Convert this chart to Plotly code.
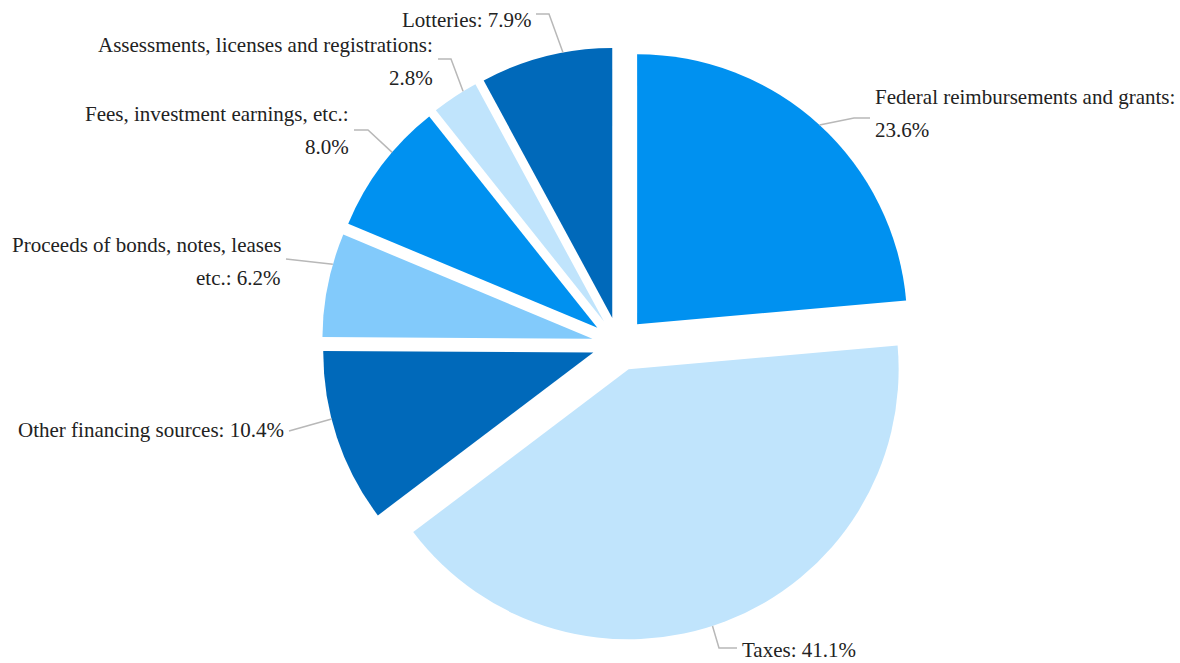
import math
import plotly.graph_objects as go

labels = ["Federal reimbursements and grants", "Taxes", "Other financing sources",
          "Proceeds of bonds, notes, leases etc.", "Fees, investment earnings, etc.",
          "Assessments, licenses and registrations", "Lotteries"]
values = [23.6, 41.1, 10.4, 6.2, 8.0, 2.8, 7.9]
label_lines = [["Federal reimbursements and grants:", "23.6%"],
               ["Taxes: 41.1%"],
               ["Other financing sources: 10.4%"],
               ["Proceeds of bonds, notes, leases", "etc.: 6.2%"],
               ["Fees, investment earnings, etc.:", "8.0%"],
               ["Assessments, licenses and registrations:", "2.8%"],
               ["Lotteries: 7.9%"]]
colors = ["#0091F0", "#C0E4FC", "#0069BA", "#82CAFB", "#0091F0", "#C0E4FC", "#0069BA"]
pulls = [0.1, 0.1, 0.1, 0.1, 0.1, 0.1, 0.1]

W, H = 1180, 663
dom_x = [0.2, 0.849]
dom_y = [0.033, 0.929]

# label layout (pixels): side, text edge x, first line center y, leader y, anchor fraction, elbow
label_pos = [
    dict(side="left", x=873, y=97, ly=118, frac=0.5, elbow=16),
    dict(side="left", x=740, y=650, ly=648, frac=0.52, elbow=18),
    dict(side="right", x=286, y=430, ly=431, frac=0.61, elbow=0),
    dict(side="right", x=283, y=245, ly=259, frac=0.70, elbow=0),
    dict(side="right", x=351, y=114, ly=130, frac=0.62, elbow=14),
    dict(side="right", x=435, y=45, ly=59, frac=0.7, elbow=13),
    dict(side="right", x=533, y=20, ly=14, frac=0.63, elbow=13),
]
line_gap = 33

fig = go.Figure(go.Pie(
    labels=labels, values=values, textinfo="none",
    sort=False, direction="clockwise", rotation=0,
    pull=pulls, marker=dict(colors=colors, line=dict(width=0)),
    domain=dict(x=dom_x, y=dom_y), showlegend=False, hoverinfo="label+percent",
))

# pie geometry as plotly computes it
cx = (dom_x[0] + dom_x[1]) / 2 * W
cy = (1 - (dom_y[0] + dom_y[1]) / 2) * H
r = min((dom_x[1] - dom_x[0]) * W, (dom_y[1] - dom_y[0]) * H) / 2 / (1 + max(pulls))
total = sum(values)

def px(x):
    return x / W

def py(y):
    return 1 - y / H

annotations = []
shapes = []
cum = 0.0
font = dict(family="Liberation Serif, Times New Roman, serif", size=21, color="#222222")
for i, v in enumerate(values):
    a0 = cum / total * 360
    a1 = (cum + v) / total * 360
    cum += v
    mid = math.radians((a0 + a1) / 2)
    apx = cx + pulls[i] * r * math.sin(mid)
    apy = cy - pulls[i] * r * math.cos(mid)
    p = label_pos[i]
    ang = math.radians(a0 + p["frac"] * (a1 - a0))
    ex = apx + r * math.sin(ang)
    ey = apy - r * math.cos(ang)
    for k, t in enumerate(label_lines[i]):
        annotations.append(dict(
            x=px(p["x"]), y=py(p["y"] + k * line_gap), xref="paper", yref="paper",
            text=t, showarrow=False, font=font,
            xanchor="left" if p["side"] == "left" else "right", yanchor="middle"))
    sgn = -1 if p["side"] == "left" else 1
    x0 = p["x"] + sgn * 3
    x1 = p["x"] + sgn * (3 + p["elbow"])
    path = (f"M {px(x0):.5f},{py(p['ly']):.5f} L {px(x1):.5f},{py(p['ly']):.5f} "
            f"L {px(ex):.5f},{py(ey):.5f}")
    shapes.append(dict(type="path", path=path, xref="paper", yref="paper",
                       line=dict(color="#b8b8b8", width=1.5), layer="above"))

fig.update_layout(width=W, height=H, margin=dict(l=0, r=0, t=0, b=0),
                  paper_bgcolor="white", plot_bgcolor="white",
                  annotations=annotations, shapes=shapes)
fig.write_html("out.html")
